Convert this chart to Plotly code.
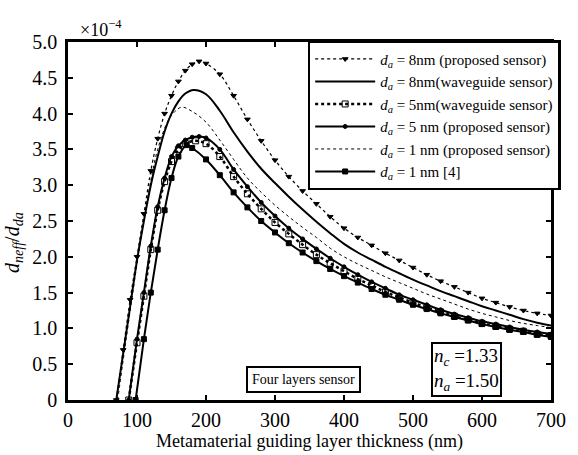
import plotly.graph_objects as go

# thickness (nm) and d_neff/d_da (x1e-4)
x_a = [70, 80, 90, 100, 110, 120, 130, 140, 150, 160, 170, 180, 190, 200, 220, 240, 260, 280, 300, 320, 340, 360, 380, 400, 420, 440, 460, 480, 500, 520, 540, 560, 580, 600, 620, 640, 660, 680, 700]
y_8p = [0, 0.7, 1.4, 2.0, 2.6, 3.2, 3.65, 4.0, 4.25, 4.45, 4.6, 4.69, 4.73, 4.70, 4.55, 4.25, 3.92, 3.62, 3.35, 3.12, 2.92, 2.74, 2.56, 2.40, 2.27, 2.16, 2.05, 1.95, 1.85, 1.75, 1.66, 1.58, 1.50, 1.42, 1.36, 1.30, 1.25, 1.21, 1.18]

x_b = [70, 80, 90, 100, 110, 120, 130, 140, 150, 160, 170, 182, 200, 220, 240, 260, 280, 300, 320, 340, 360, 380, 400, 420, 440, 460, 480, 500, 520, 540, 560, 580, 600, 620, 640, 660, 680, 700]
y_8w = [0, 0.65, 1.3, 1.95, 2.5, 3.0, 3.4, 3.75, 4.0, 4.17, 4.28, 4.33, 4.27, 4.04, 3.74, 3.47, 3.23, 3.03, 2.84, 2.66, 2.49, 2.33, 2.18, 2.06, 1.96, 1.86, 1.77, 1.68, 1.60, 1.52, 1.45, 1.38, 1.31, 1.25, 1.19, 1.13, 1.08, 1.04]

x_c = [72, 85, 100, 115, 130, 145, 155, 165, 180, 200, 220, 240, 260, 280, 300, 320, 340, 360, 380, 400, 420, 440, 460, 480, 500, 520, 540, 560, 580, 600, 620, 640, 660, 680, 700]
y_1p = [0, 0.9, 1.9, 2.8, 3.5, 3.9, 4.03, 4.09, 4.03, 3.88, 3.63, 3.36, 3.10, 2.90, 2.72, 2.56, 2.41, 2.27, 2.12, 2.00, 1.90, 1.81, 1.72, 1.64, 1.56, 1.48, 1.41, 1.34, 1.27, 1.21, 1.16, 1.11, 1.07, 1.04, 1.01]

x_d = [88, 100, 110, 120, 130, 140, 150, 160, 170, 180, 190, 200, 220, 240, 260, 280, 300, 320, 340, 360, 380, 400, 420, 440, 460, 480, 500, 520, 540, 560, 580, 600, 620, 640, 660, 680, 700]
y_5p = [0, 0.85, 1.5, 2.15, 2.7, 3.1, 3.4, 3.55, 3.63, 3.67, 3.68, 3.66, 3.50, 3.22, 2.98, 2.76, 2.57, 2.40, 2.25, 2.11, 1.98, 1.86, 1.75, 1.65, 1.56, 1.47, 1.40, 1.33, 1.26, 1.20, 1.15, 1.10, 1.06, 1.02, 0.98, 0.95, 0.92]

x_e = [88, 100, 110, 120, 130, 140, 150, 160, 170, 185, 200, 220, 240, 260, 280, 300, 320, 340, 360, 380, 400, 420, 440, 460, 480, 500, 520, 540, 560, 580, 600, 620, 640, 660, 680, 700]
y_5w = [0, 0.8, 1.45, 2.1, 2.65, 3.05, 3.33, 3.5, 3.58, 3.62, 3.58, 3.40, 3.12, 2.88, 2.67, 2.48, 2.32, 2.17, 2.03, 1.91, 1.80, 1.69, 1.60, 1.51, 1.43, 1.36, 1.29, 1.23, 1.17, 1.12, 1.07, 1.03, 0.99, 0.96, 0.92, 0.90]

x_f = [98, 110, 120, 130, 140, 150, 160, 172, 180, 200, 220, 240, 260, 280, 300, 320, 340, 360, 380, 400, 420, 440, 460, 480, 500, 520, 540, 560, 580, 600, 620, 640, 660, 680, 700]
y_1r = [0, 0.85, 1.5, 2.1, 2.65, 3.1, 3.4, 3.56, 3.52, 3.36, 3.14, 2.90, 2.69, 2.50, 2.34, 2.19, 2.06, 1.94, 1.83, 1.73, 1.64, 1.55, 1.47, 1.40, 1.33, 1.27, 1.21, 1.16, 1.11, 1.06, 1.02, 0.98, 0.95, 0.91, 0.88]

x_ticks = [0, 100, 200, 300, 400, 500, 600, 700]
y_ticks = [0, 0.5, 1.0, 1.5, 2.0, 2.5, 3.0, 3.5, 4.0, 4.5, 5.0]
y_ticktext = ["0", "0.5", "1.0", "1.5", "2.0", "2.5", "3.0", "3.5", "4.0", "4.5", "5.0"]

DA = "<i>d</i><sub><i>a</i></sub>"
names = [
    DA + " = 8nm (proposed sensor)",
    DA + " = 8nm(waveguide sensor)",
    DA + " = 5nm(waveguide sensor)",
    DA + " = 5 nm (proposed sensor)",
    DA + " = 1 nm (proposed sensor)",
    DA + " = 1 nm [4]",
]

FONT = "'Times New Roman', 'Liberation Serif', 'DejaVu Serif', serif"
fig = go.Figure()

def add(x, y, name, width, dash, symbol, msize):
    mode = "lines+markers" if symbol else "lines"
    fig.add_trace(go.Scatter(
        x=x, y=y, name=name, mode=mode, line_shape="spline",
        line=dict(color="black", width=width, dash=dash),
        marker=dict(symbol=symbol or "circle", size=msize, color="black",
                    line=dict(color="black", width=1)),
    ))

add(x_a, y_8p, names[0], 1.2, "dot", "triangle-down", 5)
add(x_b, y_8w, names[1], 2, "solid", None, 0)
add(x_e, y_5w, names[2], 2.5, "dot", "square-open", 6)
add(x_d, y_5p, names[3], 2, "solid", "circle", 4)
add(x_c, y_1p, names[4], 1, "dot", None, 0)
add(x_f, y_1r, names[5], 2, "solid", "square", 5)

axis_common = dict(
    showline=True, linecolor="black", linewidth=2.5, mirror="ticks",
    ticks="inside", ticklen=5, tickwidth=1.5, tickcolor="black",
    showgrid=False, zeroline=False,
    tickfont=dict(family=FONT, size=20, color="black"),
)

fig.update_xaxes(range=[0, 700], tickvals=x_ticks, **axis_common,
                 title=dict(text="Metamaterial guiding layer thickness (nm)",
                            font=dict(family=FONT, size=18, color="black"),
                            standoff=0))
fig.update_yaxes(range=[0, 5], tickvals=y_ticks, ticktext=y_ticktext, **axis_common,
                 ticklabelstandoff=4)

fig.add_annotation(xref="paper", yref="paper", x=-0.113, y=0.44, textangle=-90,
                   xanchor="center", yanchor="middle", showarrow=False,
                   text="<i>d</i><sub><i>neff</i></sub>/<i>d</i><sub><i>da</i></sub>",
                   font=dict(family=FONT, size=20, color="black"))

fig.add_annotation(xref="paper", yref="paper", x=0.02, y=1.0, yanchor="bottom",
                   xanchor="left", showarrow=False,
                   text="×10<sup>−4</sup>", font=dict(family=FONT, size=18, color="black"))

fig.add_annotation(x=341, y=0.29, showarrow=False, text="Four layers sensor",
                   font=dict(family=FONT, size=14, color="black"),
                   bordercolor="black", borderwidth=2, borderpad=4, bgcolor="white")

fig.add_annotation(x=577, y=0.43, showarrow=False,
                   text="<i>n</i><sub><i>c</i></sub> =1.33<br><i>n</i><sub><i>a</i></sub> =1.50",
                   font=dict(family=FONT, size=19, color="black"), align="left",
                   bordercolor="black", borderwidth=2, borderpad=1, bgcolor="white")

fig.update_layout(
    width=578, height=455,
    margin=dict(l=68, r=17, t=42, b=49),
    paper_bgcolor="white", plot_bgcolor="white",
    font=dict(family=FONT, color="black"),
    showlegend=True,
    legend=dict(x=1.02, y=1.005, xanchor="right", yanchor="top",
                bgcolor="white", bordercolor="black", borderwidth=2.5,
                font=dict(family=FONT, size=15, color="black"),
                itemwidth=60, tracegroupgap=0),
)

fig.write_html("out.html")
